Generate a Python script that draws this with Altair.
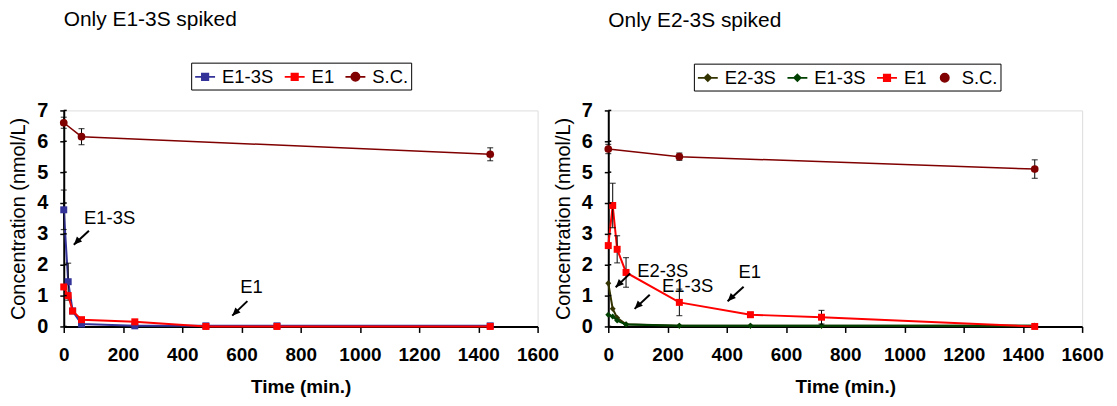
import altair as alt
import pandas as pd

# ---------------- data ----------------
time_min = [0, 15, 30, 60, 240, 480, 720, 1440]
sc_time_left = [0, 60, 1440]
sc_time_right = [0, 240, 1440]

left_e13s = [3.78, 1.45, 0.50, 0.08, 0.02, 0.02, 0.02, 0.02]
left_e13s_err = [0.64, 0.60, 0.0, 0.0, 0.0, 0.0, 0.0, 0.0]
left_e1 = [1.28, 1.00, 0.50, 0.22, 0.15, 0.00, 0.00, 0.00]
left_e1_err = [0.0, 0.0, 0.0, 0.0, 0.0, 0.0, 0.0, 0.0]
left_sc = [6.60, 6.15, 5.58]
left_sc_err = [0.18, 0.26, 0.21]

right_e23s = [1.40, 0.57, 0.28, 0.07, 0.02, 0.02, 0.02, 0.02]
right_e23s_err = [0.0, 0.0, 0.0, 0.0, 0.0, 0.0, 0.0, 0.0]
right_e13s = [0.38, 0.32, 0.19, 0.06, 0.02, 0.02, 0.02, 0.02]
right_e13s_err = [0.0, 0.0, 0.0, 0.0, 0.0, 0.0, 0.0, 0.0]
right_e1 = [2.62, 3.92, 2.50, 1.75, 0.78, 0.38, 0.30, 0.00]
right_e1_err = [0.0, 0.72, 0.44, 0.48, 0.43, 0.08, 0.22, 0.0]
right_sc = [5.75, 5.50, 5.10]
right_sc_err = [0.15, 0.12, 0.30]

titles = ["Only E1-3S spiked", "Only E2-3S spiked"]
x_ticks = [0, 200, 400, 600, 800, 1000, 1200, 1400, 1600]
y_ticks = [0, 1, 2, 3, 4, 5, 6, 7]

# annotations (data units)
left_ann_text = ["E1-3S", "E1"]
left_ann_tx = [155, 634]
left_ann_ty = [3.52, 1.27]
left_arrow_x1 = [85, 620]
left_arrow_y1 = [3.10, 0.82]
left_arrow_x2 = [34, 569]
left_arrow_y2 = [2.65, 0.35]

right_ann_text = ["E2-3S", "E1-3S", "E1"]
right_ann_tx = [184, 268, 478]
right_ann_ty = [1.78, 1.30, 1.75]
right_arrow_x1 = [74, 140, 457]
right_arrow_y1 = [1.72, 1.03, 1.29]
right_arrow_x2 = [25, 89, 403]
right_arrow_y2 = [1.27, 0.57, 0.82]

FONT = "Liberation Sans"
LINE = "M-1,0L1,0"
SQ = "M-0.33,-0.33L0.33,-0.33L0.33,0.33L-0.33,0.33Z"
CI = "M0.42,0A0.42 0.42 0 1 1 -0.42,0A0.42 0.42 0 1 1 0.42,0Z"
DI = "M0,-0.34L0.34,0L0,0.34L-0.34,0Z"
ARROWHEAD = "M0,0L1.03,-0.39L0.39,-1.03Z"
CAP = "M-1,0L1,0"

XSC = alt.Scale(domain=[0, 1600], nice=False, zero=True)
YSC = alt.Scale(domain=[0, 7], nice=False)

X_AXIS = alt.Axis(values=x_ticks, format="d", title="Time (min.)",
                  labelFontSize=19, labelFontWeight="bold", labelFont=FONT,
                  titleFontSize=19, titleFontWeight="bold", titleFont=FONT,
                  tickSize=6, tickWidth=1.5, labelPadding=13, titlePadding=13,
                  domainWidth=2, domainColor="black", tickColor="black",
                  labelColor="black", titleColor="black", grid=False,
                  labelFlush=False, labelOverlap=False)
Y_AXIS = alt.Axis(values=y_ticks, format="d", title="Concentration (nmol/L)",
                  labelFontSize=20, labelFontWeight="bold", labelFont=FONT,
                  titleFontSize=20, titleFontWeight="normal", titleFont=FONT,
                  tickSize=4, tickWidth=1.5, labelPadding=12, titlePadding=8,
                  domainWidth=2, domainColor="black", tickColor="black",
                  labelColor="black", titleColor="black", grid=False,
                  labelOverlap=False, labelFlush=False)


def X(field):
    return alt.X(f"{field}:Q", scale=XSC, axis=X_AXIS)


def Y(field):
    return alt.Y(f"{field}:Q", scale=YSC, axis=Y_AXIS)


def make_panel(title, series, ann, arrows, legend_xy):
    layers = []
    rows = []
    for s in series:
        df = pd.DataFrame({"t": s["t"], "c": s["c"], "err": s["err"]})
        df["lo"] = df["c"] - df["err"]
        df["hi"] = df["c"] + df["err"]
        base = alt.Chart(df)
        layers.append(base.mark_line(color=s["color"], strokeWidth=s["lw"]).encode(
            x=X("t"), y=Y("c")))
        eb = base.transform_filter("datum.err > 0")
        layers.append(eb.mark_rule(color="black", strokeWidth=1).encode(
            x=X("t"), y=Y("lo"), y2="hi:Q"))
        layers.append(eb.mark_point(shape=CAP, size=36, stroke="black", strokeWidth=1.2,
                                    filled=False).encode(x=X("t"), y=Y("lo")))
        layers.append(eb.mark_point(shape=CAP, size=36, stroke="black", strokeWidth=1.2,
                                    filled=False).encode(x=X("t"), y=Y("hi")))
        layers.append(base.mark_point(shape=s["shape"], size=s["size"], filled=True,
                                      fill=s["color"], opacity=1, strokeWidth=0).encode(
            x=X("t"), y=Y("c")))
        for t, c in zip(s["t"], s["c"]):
            rows.append({"series": s["name"], "t": t, "c": c})

    names = [s["name"] for s in series]
    colors = [s["color"] for s in series]
    paths = [s["legend_path"] for s in series]
    leg = alt.Legend(orient="none", legendX=legend_xy[0], legendY=legend_xy[1],
                     direction="horizontal", title=None, strokeColor="black",
                     padding=3, labelFontSize=18.5, labelFont=FONT, labelColor="black",
                     symbolSize=400, symbolStrokeWidth=1.6, symbolOpacity=1,
                     labelOffset=6, columnPadding=7, symbolType="circle")
    legdf = pd.DataFrame(rows)
    layers.append(alt.Chart(legdf).mark_point(opacity=0, filled=True).encode(
        x=X("t"), y=Y("c"),
        fill=alt.Fill("series:N", scale=alt.Scale(domain=names, range=colors), legend=leg),
        stroke=alt.Stroke("series:N", scale=alt.Scale(domain=names, range=colors), legend=leg),
        shape=alt.Shape("series:N", scale=alt.Scale(domain=names, range=paths), legend=leg),
    ))

    # inner half of the y-axis ticks (ticks cross the axis line)
    tdf = pd.DataFrame({"yt": y_ticks})
    layers.append(alt.Chart(tdf).mark_rule(color="black", strokeWidth=1.5).encode(
        y=Y("yt"), x=alt.value(0), x2=alt.value(3)))

    adf = pd.DataFrame({"text": ann[0], "tx": ann[1], "ty": ann[2]})
    layers.append(alt.Chart(adf).mark_text(font=FONT, fontSize=18.5, color="black",
                                           align="center", baseline="middle").encode(
        x=X("tx"), y=Y("ty"), text="text:N"))
    rdf = pd.DataFrame({"x1": arrows[0], "y1": arrows[1], "x2": arrows[2], "y2": arrows[3]})
    layers.append(alt.Chart(rdf).mark_rule(color="black", strokeWidth=2).encode(
        x=X("x1"), y=Y("y1"), x2="x2:Q", y2="y2:Q"))
    layers.append(alt.Chart(rdf).mark_point(shape=ARROWHEAD, size=260, filled=True,
                                            fill="black", opacity=1, strokeWidth=0).encode(
        x=X("x2"), y=Y("y2")))

    return alt.layer(*layers).properties(
        width=476, height=217,
        title=alt.TitleParams(title, anchor="start", frame="group", fontSize=21,
                              font=FONT, fontWeight="normal", color="black", offset=32),
    )


left_series = [
    dict(name="E1-3S", t=time_min, c=left_e13s, err=left_e13s_err, color="#333399",
         shape="square", size=49, lw=2, legend_path=LINE + SQ),
    dict(name="E1", t=time_min, c=left_e1, err=left_e1_err, color="#FF0000",
         shape="square", size=49, lw=2, legend_path=LINE + SQ),
    dict(name="S.C.", t=sc_time_left, c=left_sc, err=left_sc_err, color="#800000",
         shape="circle", size=60, lw=1.5, legend_path=LINE + CI),
]
right_series = [
    dict(name="E2-3S", t=time_min, c=right_e23s, err=right_e23s_err, color="#333300",
         shape="diamond", size=36, lw=2, legend_path=LINE + DI),
    dict(name="E1-3S", t=time_min, c=right_e13s, err=right_e13s_err, color="#004000",
         shape="diamond", size=36, lw=2, legend_path=LINE + DI),
    dict(name="E1", t=time_min, c=right_e1, err=right_e1_err, color="#FF0000",
         shape="square", size=49, lw=2, legend_path=LINE + SQ),
    dict(name="S.C.", t=sc_time_right, c=right_sc, err=right_sc_err, color="#800000",
         shape="circle", size=60, lw=1.5, legend_path=CI),
]

left = make_panel(titles[0], left_series,
                  (left_ann_text, left_ann_tx, left_ann_ty),
                  (left_arrow_x1, left_arrow_y1, left_arrow_x2, left_arrow_y2),
                  (128, -48))
right = make_panel(titles[1], right_series,
                   (right_ann_text, right_ann_tx, right_ann_ty),
                   (right_arrow_x1, right_arrow_y1, right_arrow_x2, right_arrow_y2),
                   (86, -47))

chart = alt.hconcat(left, right, spacing=71, bounds="flush").resolve_scale(
    fill="independent", stroke="independent", shape="independent"
).resolve_legend(
    fill="independent", stroke="independent", shape="independent"
).properties(
    padding={"left": 0, "top": 0, "right": 5, "bottom": 5}
).configure_view(stroke="black", strokeWidth=1.5).configure(background="white")

chart.save("out.html", embed_options={"renderer": "svg", "actions": False})
